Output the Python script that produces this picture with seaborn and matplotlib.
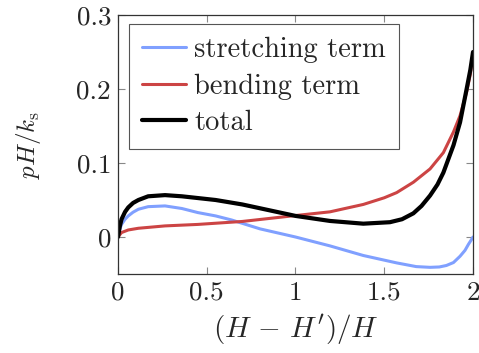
import numpy as np
import pandas as pd
import matplotlib
matplotlib.use("Agg")
import matplotlib.pyplot as plt
import seaborn as sns

# values
x_str = [0.0, 0.01, 0.02, 0.04, 0.058, 0.085, 0.115, 0.17, 0.265, 0.36, 0.45, 0.55, 0.64, 0.8, 1.0,
         1.194, 1.382, 1.57, 1.68, 1.758, 1.81, 1.85, 1.89, 1.927, 1.955, 1.974, 1.99, 2.0]
y_str = [0.0, 0.010, 0.017, 0.024, 0.0285, 0.0335, 0.0375, 0.041, 0.042, 0.0385, 0.033, 0.0285, 0.023, 0.011, 0.0,
         -0.012, -0.025, -0.035, -0.040, -0.041, -0.0405, -0.0385, -0.0345, -0.026, -0.018, -0.010, -0.004, 0.0]

x_bend = [0.0, 0.02, 0.058, 0.115, 0.265, 0.45, 0.7, 1.0, 1.194, 1.382, 1.5, 1.57, 1.664, 1.758,
          1.833, 1.89, 1.927, 1.964, 1.985, 2.0]
y_bend = [0.0, 0.006, 0.0095, 0.0118, 0.015, 0.017, 0.021, 0.029, 0.034, 0.044, 0.053, 0.060, 0.074, 0.092,
          0.114, 0.142, 0.164, 0.196, 0.220, 0.248]

x_tot = [0.0, 0.01, 0.02, 0.04, 0.058, 0.085, 0.115, 0.17, 0.265, 0.36, 0.55, 0.70, 1.0, 1.194, 1.382,
         1.532, 1.6, 1.664, 1.71, 1.758, 1.8, 1.833, 1.89, 1.927, 1.964, 1.985, 2.0]
y_tot = [0.0, 0.014, 0.024, 0.034, 0.040, 0.046, 0.050, 0.055, 0.0566, 0.055, 0.050, 0.044, 0.0285, 0.0217, 0.018,
         0.020, 0.024, 0.032, 0.042, 0.056, 0.071, 0.087, 0.124, 0.155, 0.200, 0.226, 0.25]

labels = ["stretching term", "bending term", "total"]
colors = ["#80a0ff", "#cc4444", "#000000"]
widths = [2.2, 2.2, 3.0]

sns.set_theme(style="ticks")
plt.rcParams["font.family"] = ["serif"]
plt.rcParams["font.serif"] = ["cmr10", "DejaVu Serif"]
plt.rcParams["mathtext.fontset"] = "cm"
plt.rcParams["axes.formatter.use_mathtext"] = True
plt.rcParams["axes.unicode_minus"] = False

frames = []
for lab, xs, ys in zip(labels, [x_str, x_bend, x_tot], [y_str, y_bend, y_tot]):
    frames.append(pd.DataFrame({"x": xs, "y": ys, "series": lab}))
df = pd.concat(frames, ignore_index=True)

fig = plt.figure(figsize=(4.79, 3.53), dpi=100)
ax = fig.add_axes([0.2463, 0.2238, 0.7412, 0.7337])

for lab, col, lw in zip(labels, colors, widths):
    sub = df[df["series"] == lab]
    sns.lineplot(data=sub, x="x", y="y", ax=ax, color=col, linewidth=lw,
                 label=lab, sort=False, estimator=None, solid_joinstyle="round")

ax.set_xlim(0, 2)
ax.set_ylim(-0.05, 0.3)
ax.set_xticks([0, 0.5, 1, 1.5, 2])
ax.set_xticklabels(["0", "0.5", "1", "1.5", "2"])
ax.set_yticks([0, 0.1, 0.2, 0.3])
ax.set_yticklabels(["0", "0.1", "0.2", "0.3"])
ax.tick_params(direction="in", top=True, right=True, length=5, width=0.8,
               color="#888888", labelsize=19.5, pad=5)
for s in ax.spines.values():
    s.set_color("#333333")
    s.set_linewidth(0.9)

ax.set_xlabel(r"$(H\,-\,H')/H$", fontsize=21, labelpad=5)
ax.set_ylabel(r"$pH/k_{\mathrm{s}}$", fontsize=18, labelpad=24)

leg = ax.legend(loc="upper left", bbox_to_anchor=(0.031, 0.965), fontsize=20.5,
                frameon=True, fancybox=False, framealpha=1, edgecolor="#555555",
                handlelength=1.55, handletextpad=0.3, borderpad=0.45, labelspacing=0.35,
                borderaxespad=0)
leg.get_frame().set_linewidth(0.8)

fig.savefig("out.png", dpi=100)
